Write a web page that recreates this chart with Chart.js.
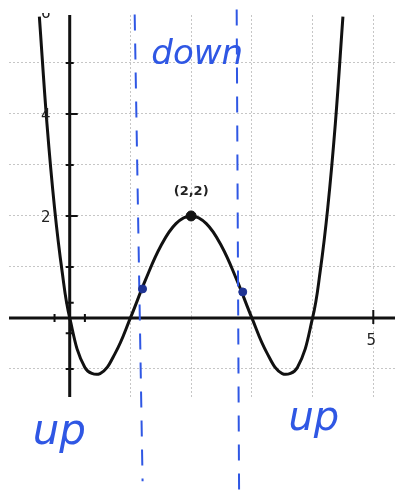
<!DOCTYPE html>
<html>
<head>
<meta charset="utf-8">
<script src="https://cdn.jsdelivr.net/npm/chart.js@4/dist/chart.umd.min.js"></script>
<style>
  html, body { margin: 0; padding: 0; background: #fff; }
  #frame { width: 395px; height: 495px; overflow: hidden; position: relative; }
  #wrap { width: 440px; height: 495px; position: absolute; left: 0; top: 0; }
</style>
</head>
<body>
<div id="frame"><div id="wrap"><canvas id="curveChart"></canvas></div></div>
<script>
  // quartic curve, sampled off the graph paper
  const curveX = [-0.5, -0.375, -0.25, -0.125, 0, 0.25, 0.5, 0.75, 1, 1.25, 1.5, 1.75, 2,
                  2.25, 2.5, 2.75, 3, 3.25, 3.5, 3.75, 4, 4.125, 4.25, 4.375, 4.5];
  const curveY = [5.91, 3.81, 2.16, 0.91, 0, -0.97, -1.09, -0.69, 0, 0.75, 1.41, 1.85, 2,
                  1.85, 1.41, 0.75, 0, -0.69, -1.09, -0.97, 0, 0.91, 2.16, 3.81, 5.91];

  // local max
  const peakX = [2];
  const peakY = [2];

  // inflection points marked in blue
  const inflectX = [1.2, 2.85];
  const inflectY = [0.57, 0.51];

  // hand-drawn dashed dividers (top, bottom)
  const leftDivX = [1.07, 1.2];
  const leftDivY = [5.95, -3.2];
  const rightDivX = [2.75, 2.79];
  const rightDivY = [6.05, -3.5];

  // axis tick marks and labels
  const yTickMarks = [-1, -0.3, 0.3, 1, 2, 3, 4, 5];
  const yTickLabels = [2, 4, 6];
  const xTickMarks = [-0.25, 0.25, 5];
  const xTickLabels = [5];

  const gridX = [1, 2, 3, 4, 5];
  const gridY = [-1, 1, 2, 3, 4, 5];

  const pen = '#2f57e4';

  const toPoints = (xs, ys) => xs.map((v, i) => ({ x: v, y: ys[i] }));

  const paper = {
    id: 'paper',
    beforeDatasetsDraw(chart) {
      const { ctx, scales: { x, y } } = chart;
      const x0 = x.getPixelForValue(0);
      const y0 = y.getPixelForValue(0);
      ctx.save();
      ctx.strokeStyle = '#111';
      ctx.lineWidth = 3;
      ctx.beginPath();
      ctx.moveTo(x.left, y0);
      ctx.lineTo(x.right, y0);
      ctx.moveTo(x0, y.top);
      ctx.lineTo(x0, y.bottom);
      ctx.stroke();

      ctx.lineWidth = 2;
      ctx.beginPath();
      yTickMarks.forEach(v => {
        const py = y.getPixelForValue(v);
        const long = v === 2 || v === 4;
        ctx.moveTo(x0 - 4, py);
        ctx.lineTo(x0 + (long ? 8 : 4), py);
      });
      xTickMarks.forEach(v => {
        const px = x.getPixelForValue(v);
        ctx.moveTo(px, y0 - (v === 5 ? 8 : 4));
        ctx.lineTo(px, y0 + (v === 5 ? 6 : 4));
      });
      ctx.stroke();
      ctx.restore();
    },
    afterDatasetsDraw(chart) {
      const { ctx, scales: { x, y } } = chart;
      const x0 = x.getPixelForValue(0);
      const y0 = y.getPixelForValue(0);
      ctx.save();
      ctx.fillStyle = '#222';
      ctx.font = '15px "DejaVu Sans"';
      ctx.textAlign = 'center';
      ctx.textBaseline = 'middle';

      // top label runs off the sheet
      ctx.save();
      ctx.beginPath();
      ctx.rect(0, 13, chart.width, chart.height);
      ctx.clip();
      yTickLabels.forEach(v => ctx.fillText(String(v), x0 - 24, y.getPixelForValue(v) + 2));
      ctx.restore();

      xTickLabels.forEach(v => ctx.fillText(String(v), x.getPixelForValue(v) - 2, y0 + 23));

      ctx.font = 'bold 13px "DejaVu Sans"';
      ctx.fillText('(' + peakX[0] + ',' + peakY[0] + ')', x.getPixelForValue(peakX[0]), y.getPixelForValue(peakY[0]) - 24);

      ctx.fillStyle = pen;
      ctx.font = 'italic 34px "DejaVu Sans"';
      ctx.fillText('down', x.getPixelForValue(2.1), y.getPixelForValue(5.15));
      ctx.font = 'italic 42px "DejaVu Sans"';
      ctx.fillText('up', x.getPixelForValue(-0.17), y.getPixelForValue(-2.25));
      ctx.font = 'italic 40px "DejaVu Sans"';
      ctx.fillText('up', x.getPixelForValue(4.02), y.getPixelForValue(-2.0));
      ctx.restore();
    }
  };

  const ctx = document.getElementById('curveChart').getContext('2d');
  const curveChart = new Chart(ctx, {
    type: 'scatter',
    data: {
      datasets: [
        {
          data: toPoints(curveX, curveY),
          showLine: true,
          borderColor: '#111',
          borderWidth: 3,
          pointRadius: 0,
          tension: 0.4,
          order: 3
        },
        {
          data: toPoints(leftDivX, leftDivY),
          showLine: true,
          borderColor: pen,
          borderWidth: 2,
          borderDash: [16, 13],
          pointRadius: 0,
          clip: false,
          order: 2
        },
        {
          data: toPoints(rightDivX, rightDivY),
          showLine: true,
          borderColor: pen,
          borderWidth: 2,
          borderDash: [16, 13],
          pointRadius: 0,
          clip: false,
          order: 2
        },
        {
          data: toPoints(inflectX, inflectY),
          pointRadius: 4,
          pointBackgroundColor: '#1f3393',
          pointBorderColor: '#1f3393',
          order: 1
        },
        {
          data: toPoints(peakX, peakY),
          pointRadius: 5,
          pointBackgroundColor: '#111',
          pointBorderColor: '#111',
          order: 0
        }
      ]
    },
    options: {
      responsive: true,
      maintainAspectRatio: false,
      animation: false,
      layout: { padding: { left: 9, right: 4, top: 15, bottom: 98 } },
      plugins: {
        legend: { display: false },
        tooltip: { enabled: false }
      },
      scales: {
        x: {
          type: 'linear',
          min: -1,
          max: 6,
          ticks: { display: false, stepSize: 1 },
          border: { display: false, dash: [2, 2] },
          grid: {
            drawTicks: false,
            lineWidth: 1,
            color: c => gridX.includes(c.tick.value) ? '#c6c6c6' : 'rgba(0,0,0,0)'
          }
        },
        y: {
          min: -1.55,
          max: 5.94,
          ticks: { display: false, stepSize: 1 },
          border: { display: false, dash: [2, 2] },
          grid: {
            drawTicks: false,
            lineWidth: 1,
            color: c => gridY.includes(c.tick.value) ? '#c6c6c6' : 'rgba(0,0,0,0)'
          }
        }
      }
    },
    plugins: [paper]
  });
</script>
</body>
</html>
